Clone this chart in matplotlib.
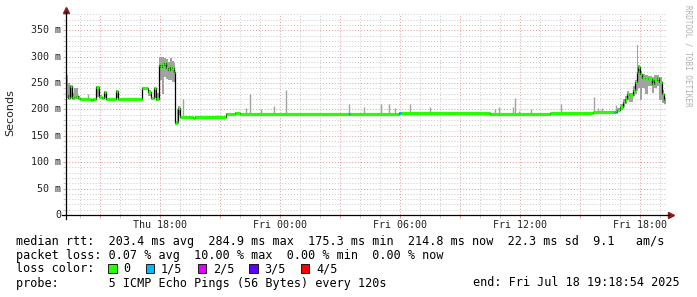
import numpy as np
import matplotlib
matplotlib.use('Agg')
import matplotlib.pyplot as plt
from matplotlib.patches import Rectangle


# hours since Thu 00:00, median rtt in ms, smoke min / max in ms, lost pings (of 5)
hours = [13.32, 13.40, 13.50, 13.58, 13.70, 13.80, 13.90, 14.00, 14.55, 14.65,
         14.80, 14.95, 15.10, 15.20, 15.30, 15.80, 15.90, 17.08, 17.42, 17.55,
         17.70, 17.80, 17.93, 18.00, 18.10, 18.20, 18.30, 18.40, 18.50, 18.60,
         18.70, 18.75, 18.85, 18.92, 19.00, 19.65, 19.75, 21.30, 21.75, 22.00,
         27.43, 27.50, 29.97, 30.03, 34.50, 37.50, 39.65, 40.70, 40.78, 40.83,
         41.00, 41.13, 41.25, 41.33, 41.47, 41.63, 41.75, 41.83, 41.92, 42.00,
         42.08, 42.25, 42.42, 42.58, 42.70, 42.83, 42.97, 43.08, 43.20, 43.32]
median_ms = [228, 222, 244, 222, 224, 226, 222, 220, 218, 220,
             242, 223, 222, 233, 220, 235, 220, 240, 233, 221,
             241, 220, 284, 281, 284, 287, 278, 275, 281, 278,
             271, 174, 177, 202, 186, 184, 186, 192, 194, 192,
             192, 192, 194, 194, 191, 193, 195, 196, 196, 199,
             205, 214, 219, 230, 228, 237, 252, 271, 281, 268,
             259, 260, 257, 249, 255, 260, 252, 230, 218, 215]
smoke_lo = [222, 219, 222, 219, 220, 220, 219, 219, 217, 219,
            224, 221, 221, 222, 219, 222, 219, 238, 225, 219,
            221, 216, 260, 256, 230, 262, 258, 256, 255, 252,
            252, 172, 175, 190, 185, 183, 185, 191, 192, 191,
            191, 191, 193, 193, 190, 192, 194, 195, 195, 195,
            198, 205, 210, 218, 215, 225, 230, 235, 240, 218,
            240, 230, 245, 232, 240, 245, 218, 212, 210, 213]
smoke_hi = [265, 250, 246, 232, 240, 240, 226, 221, 219, 221,
            244, 228, 224, 235, 221, 237, 221, 242, 236, 223,
            243, 232, 300, 299, 300, 298, 296, 290, 298, 292,
            288, 178, 200, 206, 187, 185, 187, 193, 196, 193,
            193, 193, 196, 196, 192, 194, 196, 197, 197, 203,
            210, 220, 226, 234, 232, 244, 256, 322, 284, 272,
            267, 266, 264, 262, 266, 266, 262, 236, 222, 217]
loss = [0, 0, 0, 0, 0, 0, 0, 0, 0, 0,
        0, 0, 0, 0, 0, 0, 0, 0, 0, 0,
        0, 0, 0, 0, 0, 0, 0, 0, 0, 0,
        0, 0, 0, 0, 0, 0, 0, 0, 0, 0,
        1, 0, 1, 0, 0, 0, 0, 1, 0, 0,
        0, 0, 0, 0, 0, 0, 0, 0, 0, 0,
        0, 0, 0, 0, 0, 0, 0, 0, 0, 0]

# single outlier pings on the flat part
spike_hours = [14.42, 19.17, 20.83, 21.65, 22.30, 22.50, 23.04, 23.72, 24.32, 27.45,
               28.22, 29.03, 29.45, 29.77, 30.50, 31.52, 34.75, 34.97, 35.63, 35.77,
               35.93, 36.57, 38.04, 39.72, 39.92, 40.12, 40.78]
spike_top = [229, 219, 190, 190, 202, 230, 200, 206, 237, 210,
             204, 210, 210, 202, 210, 204, 200, 204, 205, 221,
             197, 201, 211, 224, 203, 202, 209]

loss_labels = ['0', '1/5', '2/5', '3/5', '4/5']
loss_colors = ['#26ff00', '#00b8ff', '#dd00ff', '#5e00ff', '#ff0000']

tick_hours = [18, 24, 30, 36, 42]
tick_labels = ['Thu 18:00', 'Fri 00:00', 'Fri 06:00', 'Fri 12:00', 'Fri 18:00']

legend_rows = [
    'median rtt:  203.4 ms avg  284.9 ms max  175.3 ms min  214.8 ms now  22.3 ms sd  9.1   am/s',
    'packet loss: 0.07 % avg  10.00 % max  0.00 % min  0.00 % now',
    'loss color:',
    'probe:       5 ICMP Echo Pings (56 Bytes) every 120s',
]
end_text = 'end: Fri Jul 18 19:18:54 2025'

W, H = 697, 297
mono = 'DejaVu Sans Mono'

fig = plt.figure(figsize=(W / 100, H / 100), dpi=100)
fig.patch.set_facecolor('white')
ax = fig.add_axes([66.3 / W, 82 / H, 600 / W, 200.6 / H])
ax.set_xlim(43.315 - 30, 43.315)
ax.set_ylim(0, 380)
for s in ax.spines.values():
    s.set_visible(False)

# grid
ax.set_xticks(np.arange(15, 44, 3))
ax.set_xticks(np.arange(14, 44, 1), minor=True)
ax.set_yticks(np.arange(50, 351, 50))
ax.set_yticks(np.arange(10, 381, 10), minor=True)
ax.set_xticklabels([])
ax.set_yticklabels([])
ax.grid(which='minor', color='#c8c8c8', linestyle=(0, (1, 2)), lw=0.7)
ax.grid(which='major', color='#e09a9a', linestyle=(0, (1, 2)), lw=0.7)
ax.tick_params(which='both', length=2, width=0.7, direction='out', color='#c8c8c8')
ax.tick_params(which='major', color='#e09a9a')
ax.set_axisbelow(True)

# smoke
h = np.array(hours)
med = np.array(median_ms)
ax.fill_between(h, smoke_lo, smoke_hi, step='post', color='#a2a2a2', lw=0, zorder=2)
idx = np.searchsorted(h, spike_hours, side='right') - 1
ax.vlines(spike_hours, med[idx], spike_top, colors='#a2a2a2', lw=1.0, zorder=2)

# median: black risers, loss coloured level
ax.step(h, med, where='post', color='black', lw=0.9, zorder=3)
seg_colors = [loss_colors[l] for l in loss[:-1]]
ax.hlines(med[:-1], h[:-1], h[1:], colors=seg_colors, lw=2.3, zorder=4, capstyle='butt')

# axes with arrows
ax.plot([-4 / 600, 1 + 3 / 600], [0, 0], transform=ax.transAxes, color='black', lw=0.9, clip_on=False, zorder=5)
ax.plot([0, 0], [-4 / 200.6, 203 / 200.6], transform=ax.transAxes, color='black', lw=0.9, clip_on=False, zorder=5)
ax.plot([1 + 5 / 600], [0], marker='>', ms=4, color='#8b1a1a', transform=ax.transAxes, clip_on=False)
ax.plot([0], [205 / 200.6], marker='^', ms=4, color='#8b1a1a', transform=ax.transAxes, clip_on=False)

# tick labels
for v in range(0, 351, 50):
    lab = '0' if v == 0 else f'{v} m'
    ax.text(-5 / 600, v, lab, ha='right', va='center', fontsize=7.2, family=mono,
            color='#222222', transform=ax.get_yaxis_transform())
for t, lab in zip(tick_hours, tick_labels):
    ax.text(t, -10 / 200.6, lab, ha='center', va='center', fontsize=7.2, family=mono,
            color='#222222', transform=ax.get_xaxis_transform())

fig.text(10 / W, 1 - 113 / H, 'Seconds', rotation=90, ha='center', va='center',
         fontsize=8, color='#222222')
fig.text(688 / W, 1 - 5 / H, 'RRDTOOL / TOBI OETIKER', rotation=270, ha='center', va='top',
         fontsize=5.5, family=mono, color='#b0b0b0')

# legend block
row_y = [241, 255, 268.5, 283]
for txt, y in zip(legend_rows, row_y):
    fig.text(16 / W, 1 - y / H, txt, ha='left', va='center', fontsize=8.5, family=mono, color='black')
fig.text(680 / W, 1 - row_y[3] / H, end_text, ha='right', va='center', fontsize=8.5, family=mono, color='black')

cw = 7.1
x = 16 + 13 * cw
for lab, col in zip(loss_labels, loss_colors):
    fig.patches.append(Rectangle(((x) / W, 1 - (row_y[2] + 4.5) / H), 8.5 / W, 9 / H,
                                 facecolor=col, edgecolor='black', lw=0.6,
                                 transform=fig.transFigure, figure=fig))
    fig.text((x + 15.2) / W, 1 - row_y[2] / H, lab, ha='left', va='center', fontsize=8.5,
             family=mono, color='black')
    x += 15.2 + len(lab) * cw + 15.2

fig.savefig('out.png', dpi=100, facecolor='white')
